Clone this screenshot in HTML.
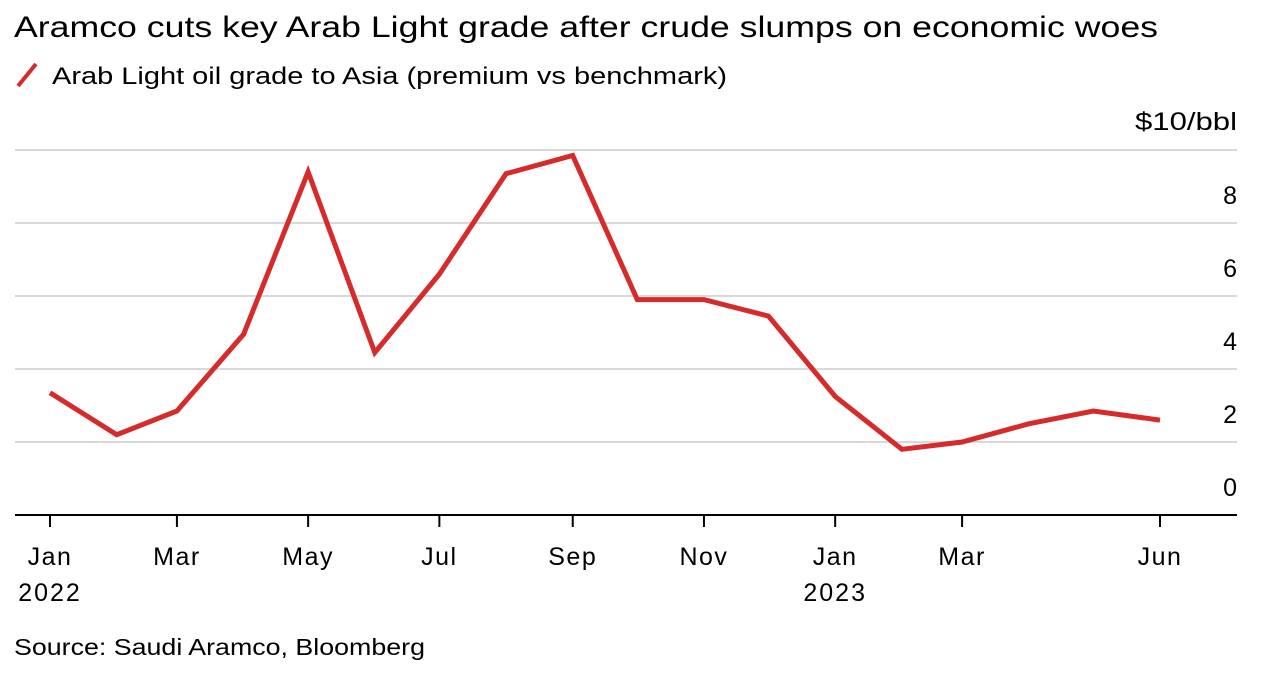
<!DOCTYPE html>
<html><head><meta charset="utf-8"><style>
body{margin:0;background:#fff;font-family:"Liberation Sans",sans-serif;color:#000}
#wrap{position:relative;width:1262px;height:678px;overflow:hidden}
</style></head><body>
<div id="wrap">
<svg id="chart" width="1262" height="678">
<text x="14" y="37" font-size="30" textLength="1144" lengthAdjust="spacingAndGlyphs" fill="#000">Aramco cuts key Arab Light grade after crude slumps on economic woes</text>
<line x1="18" y1="86" x2="36" y2="64" stroke="#d62b2b" stroke-width="4"/>
<text x="52" y="84" font-size="24" textLength="675" lengthAdjust="spacingAndGlyphs">Arab Light oil grade to Asia (premium vs benchmark)</text>
<text x="1237" y="130" font-size="25" text-anchor="end" textLength="102" lengthAdjust="spacingAndGlyphs">$10/bbl</text>
<g id="grid"></g><g id="xaxis"></g><g id="series"></g>
<text x="14" y="655" font-size="23" textLength="411" lengthAdjust="spacingAndGlyphs">Source: Saudi Aramco, Bloomberg</text>
</svg></div>
<script>
const values=[3.35,2.2,2.85,4.95,9.4,4.45,6.6,9.35,9.85,5.9,5.9,5.45,3.25,1.8,2.0,2.5,2.85,2.6];
const yTicks=[0,2,4,6,8];
const xTickMonths=[0,2,4,6,8,10,12,14,17];
const xTickLabels=["Jan","Mar","May","Jul","Sep","Nov","Jan","Mar","Jun"];
const xTickYears=["2022","","","","","","2023","",""];
const NS="http://www.w3.org/2000/svg";
function dayOf(i){const d=new Date(Date.UTC(2022,i,1));return (d-Date.UTC(2022,0,1))/86400000;}
function xs(i){return 50+dayOf(i)*(1110/516);}
function ys(v){return 515-v*36.5;}
function mk(tag,attrs,parent){const e=document.createElementNS(NS,tag);for(const k in attrs)e.setAttribute(k,attrs[k]);parent.appendChild(e);return e;}
const grid=document.getElementById('grid');
[...yTicks,10].forEach(v=>{
  if(v>0){const l=mk('line',{x1:15,x2:1237,y1:ys(v),y2:ys(v),stroke:'#d9d9d9','stroke-width':2},grid);
  
  }
  if(v<10){const t=mk('text',{x:1237,y:ys(v)-19,'font-size':25,'text-anchor':'end'},grid);t.textContent=v;
  
  }
});
const xa=document.getElementById('xaxis');
const ax=mk('line',{x1:15,x2:1237,y1:515,y2:515,stroke:'#000','stroke-width':2},xa);


xTickMonths.forEach((m,i)=>{
  const x=xs(m);
  const tk=mk('line',{x1:x,x2:x,y1:515,y2:527,stroke:'#000','stroke-width':2},xa);
  
  
  const t=mk('text',{x:x,y:565,'font-size':25,'text-anchor':'middle','letter-spacing':'1.5'},xa);t.textContent=xTickLabels[i];
  
  
  if(xTickYears[i]){const y=mk('text',{x:x,y:601,'font-size':25,'text-anchor':'middle','letter-spacing':'2'},xa);y.textContent=xTickYears[i];
  
  }
});
const pts=values.map((v,i)=>xs(i).toFixed(1)+','+ys(v).toFixed(1)).join(' ');
const pl=mk('polyline',{points:pts,fill:'none',stroke:'#d62b2b','stroke-width':5,'stroke-linejoin':'miter'},document.getElementById('series'));


</script>
</body></html>
